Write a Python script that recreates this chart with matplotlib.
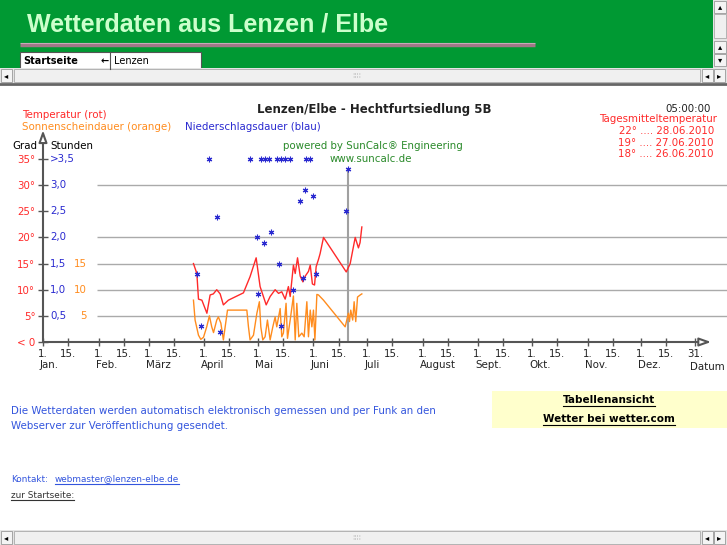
import numpy as np
import matplotlib.pyplot as plt
from matplotlib.patches import Rectangle

# Tage seit 1. Januar 2010 (0 = 1. Jan.)
temp_tag = [84.0, 85.9, 86.8, 88.7, 91.5, 93.3, 95.1, 97.0, 98.9, 100.7, 103.5, 111.9,
            115.6, 119.0, 121.2, 124.6, 126.8, 129.6, 131.5, 133.3, 135.2, 137.0, 138.0,
            139.8, 140.8, 142.1, 143.6, 145.1, 146.4, 148.2, 149.2, 150.4, 151.6, 152.5,
            153.8, 154.7, 156.6, 169.3, 171.5, 174.3, 176.1, 177.0, 178.0]
temp_grad = [15.0, 13.1, 8.2, 8.0, 5.5, 9.0, 9.2, 10.0, 9.2, 7.1, 8.0, 9.4,
             12.5, 16.1, 10.6, 7.1, 8.7, 10.0, 9.3, 9.6, 8.2, 10.6, 8.7,
             14.7, 13.1, 16.1, 12.6, 11.5, 12.6, 13.5, 14.7, 11.1, 10.9, 14.4,
             15.8, 16.9, 20.0, 13.4, 15.0, 20.0, 18.0, 19.0, 22.0]

sonne_tag = [84.0, 84.9, 86.8, 88.1, 89.6, 91.4, 92.9, 94.2, 95.2, 97.0, 97.9, 99.3,
             100.7, 101.7, 103.0, 113.8, 114.7, 115.6, 117.5, 119.4, 120.8, 121.6, 122.7,
             124.0, 125.3, 126.8, 128.3, 129.6, 130.5, 132.4, 133.3, 134.2, 135.7, 136.5,
             138.0, 139.8, 140.8, 141.7, 142.8, 144.5, 145.8, 147.3, 148.2, 149.2, 150.1,
             151.0, 151.8, 152.9, 153.8, 156.6, 168.7, 169.6, 170.5, 171.1, 171.8, 172.9,
             173.7, 174.6, 175.6, 177.1, 178.0]
sonne_std = [8.0, 4.2, 1.3, 0.5, 0.9, 2.9, 5.0, 2.9, 1.8, 4.2, 4.8, 3.6,
             0.4, 2.9, 6.1, 6.1, 2.9, 0.4, 1.3, 5.5, 7.7, 2.9, 0.4,
             1.0, 4.2, 0.4, 2.9, 4.8, 2.9, 6.4, 1.0, 1.7, 7.4, 0.7,
             4.2, 8.8, 0.4, 7.4, 1.0, 1.7, 1.0, 7.7, 1.0, 6.1, 2.9,
             6.1, 0.4, 9.1, 9.0, 8.0, 2.9, 4.2, 5.5, 3.9, 6.1, 4.2,
             7.7, 3.9, 8.6, 9.0, 9.2]

regen_tag = [86.2, 88.3, 92.9, 97.0, 98.9, 115.6, 119.4, 120.3, 121.8, 123.5, 124.0,
             126.3, 127.4, 130.7, 131.8, 133.0, 133.0, 135.2, 138.0, 139.3, 143.2,
             145.4, 146.0, 146.9, 149.2, 151.0, 152.3, 169.3, 170.0]
regen_std = [1.31, 0.31, 4.0, 2.4, 0.2, 4.0, 2.0, 0.91, 4.0, 1.9, 4.0,
             4.0, 2.11, 4.0, 1.5, 4.0, 0.31, 4.0, 4.0, 0.99, 2.7,
             1.22, 2.9, 4.0, 4.0, 2.8, 1.31, 2.51, 3.3]

monate = ["Jan.", "Feb.", "März", "April", "Mai", "Juni", "Juli", "August",
          "Sept.", "Okt.", "Nov.", "Dez."]
monat_start = [0, 31, 59, 90, 120, 151, 181, 212, 243, 273, 304, 334]
grad_ticks = [0, 5, 10, 15, 20, 25, 30, 35]
grad_labels = ["< 0", "5°", "10°", "15°", "20°", "25°", "30°", "35°"]
std_labels = ["", "0,5", "1,0", "1,5", "2,0", "2,5", "3,0", ">3,5"]
sonne_ticks = [5, 10, 15]
gitter = [5, 10, 15, 20, 30]
heute = 170
mittel = ["22° .... 28.06.2010", "19° .... 27.06.2010", "18° .... 26.06.2010"]

ROT = "#ff2a2a"
ORANGE = "#ff8c1e"
BLAU = "#2a2ad0"
GRUEN = "#2a8a2a"
FS = 7.4

plt.rcParams["font.family"] = ["DejaVu Sans"]
fig = plt.figure(figsize=(7.27, 5.45), dpi=100)

# Seite in Pixelkoordinaten
page = fig.add_axes([0, 0, 1, 1])
page.set_xlim(0, 727)
page.set_ylim(545, 0)
page.axis("off")

# Kopf
page.add_patch(Rectangle((0, 0), 713, 68, fc="#009933", ec="none"))
page.text(27, 25, "Wetterdaten aus Lenzen / Elbe", color="#ccffcc", fontsize=18,
          fontweight="bold", family="Liberation Sans", va="center")
page.plot([20, 535], [44.5, 44.5], color="#a07888", lw=2.5, solid_capstyle="butt")
page.plot([20, 535], [43.3, 43.3], color="#c8a8b8", lw=0.8, solid_capstyle="butt")
page.add_patch(Rectangle((20, 52), 181, 17, fc="white", ec="#555555", lw=0.8))
page.plot([110, 110], [52, 69], color="#555555", lw=0.8)
page.text(23, 61, "Startseite", fontsize=7, fontweight="bold", va="center")
page.text(101, 61, "←", fontsize=7, fontweight="bold", va="center")
page.text(114, 61, "Lenzen", fontsize=7, va="center")
page.text(604, 73, "Private Homepage", fontsize=7, color="#2244aa", va="center", zorder=0.5)


def scrollbar(y0):
    page.add_patch(Rectangle((0, y0), 727, 15, fc="#e4e4e4", ec="none"))
    page.add_patch(Rectangle((1, y0 + 1), 11, 13, fc="#f4f4f4", ec="#999999", lw=0.6))
    page.text(6.5, y0 + 7.5, "◂", fontsize=6, ha="center", va="center")
    page.add_patch(Rectangle((14, y0 + 1), 686, 13, fc="#f0f0f0", ec="#aaaaaa", lw=0.6))
    page.text(357, y0 + 7.5, "⁞⁞⁞⁞", fontsize=5, color="#bbbbbb", ha="center", va="center")
    page.add_patch(Rectangle((702, y0 + 1), 11, 13, fc="#f4f4f4", ec="#999999", lw=0.6))
    page.text(707.5, y0 + 7.5, "◂", fontsize=6, ha="center", va="center")
    page.add_patch(Rectangle((714, y0 + 1), 11, 13, fc="#f4f4f4", ec="#999999", lw=0.6))
    page.text(719.5, y0 + 7.5, "▸", fontsize=6, ha="center", va="center")


# rechte Bildlaufleiste im Kopf
page.add_patch(Rectangle((713, 0), 14, 68, fc="#e4e4e4", ec="none"))
page.add_patch(Rectangle((714, 1), 12, 12, fc="#f4f4f4", ec="#999999", lw=0.6))
page.text(720, 7, "▴", fontsize=6, ha="center", va="center")
page.add_patch(Rectangle((714, 14), 12, 24, fc="#f0f0f0", ec="#aaaaaa", lw=0.6))
page.add_patch(Rectangle((714, 41), 12, 12, fc="#f4f4f4", ec="#999999", lw=0.6))
page.text(720, 47, "▴", fontsize=6, ha="center", va="center")
page.add_patch(Rectangle((714, 54), 12, 12, fc="#f4f4f4", ec="#999999", lw=0.6))
page.text(720, 60, "▾", fontsize=6, ha="center", va="center")
scrollbar(68)
page.plot([0, 727], [84, 84], color="#666666", lw=2)
scrollbar(530)

# Beschriftung rund um das Diagramm
page.text(22, 115, "Temperatur (rot)", color=ROT, fontsize=FS, va="center")
page.text(22, 127, "Sonnenscheindauer (orange)", color=ORANGE, fontsize=FS, va="center")
page.text(185, 127, "Niederschlagsdauer (blau)", color=BLAU, fontsize=FS, va="center")
page.text(374, 110, "Lenzen/Elbe - Hechtfurtsiedlung 5B", fontsize=8.5, fontweight="bold",
          color="#222222", ha="center", va="center")
page.text(373, 146, "powered by SunCalc® Engineering", color=GRUEN, fontsize=FS,
          ha="center", va="center")
page.text(371, 159, "www.suncalc.de", color=GRUEN, fontsize=FS, ha="center", va="center")
page.text(711, 109, "05:00:00", fontsize=FS, color="#222222", ha="right", va="center")
page.text(717, 119, "Tagesmitteltemperatur", fontsize=FS, color=ROT, ha="right", va="center")
for i, s in enumerate(mittel):
    page.text(714, 131 + 11.5 * i, s, fontsize=FS, color=ROT, ha="right", va="center")
page.text(12, 146, "Grad", fontsize=FS, va="center")
page.text(50, 146, "Stunden", fontsize=FS, va="center")

# Fusszeile
page.text(11, 411, "Die Wetterdaten werden automatisch elektronisch gemessen und per Funk an den",
          fontsize=7.35, color="#3355dd", va="center")
page.text(11, 426, "Webserver zur Veröffentlichung gesendet.", fontsize=7.35, color="#3355dd",
          va="center")
page.add_patch(Rectangle((492, 391), 235, 37, fc="#ffffcc", ec="none"))
unterstrichen = []
unterstrichen.append(page.text(609, 400, "Tabellenansicht", fontsize=7.5, fontweight="bold",
                               ha="center", va="center"))
unterstrichen.append(page.text(609, 419, "Wetter bei wetter.com", fontsize=7.5, fontweight="bold",
                               ha="center", va="center"))
page.text(11, 479, "Kontakt:", fontsize=6.4, color="#3355dd", va="center")
unterstrichen.append(page.text(55, 479, "webmaster@lenzen-elbe.de", fontsize=6.4,
                               color="#3355dd", va="center"))
unterstrichen.append(page.text(11, 495, "zur Startseite:", fontsize=6.4, color="#333333",
                               va="center"))

# Diagramm
ax = fig.add_axes([43 / 727, (545 - 342) / 545, 652 / 727, 183 / 545])
ax.set_xlim(0, 364)
ax.set_ylim(0, 35)
ax.patch.set_alpha(0)
for sp in ax.spines.values():
    sp.set_visible(False)

ax.hlines(gitter, 30, 382, colors="#aaaaaa", lw=1, clip_on=False)
ax.vlines(heute, 0, 33, colors="#a0a0a0", lw=1.5, clip_on=False)

ax.annotate("", xy=(373, 0), xytext=(0, 0), annotation_clip=False,
            arrowprops=dict(arrowstyle="-|>,head_length=0.7,head_width=0.25",
                            fc="white", ec="#555555", lw=1.5, shrinkA=0, shrinkB=0))
ax.annotate("", xy=(0, 40.5), xytext=(0, 0), annotation_clip=False,
            arrowprops=dict(arrowstyle="-|>,head_length=0.7,head_width=0.25",
                            fc="white", ec="#555555", lw=1.5, shrinkA=0, shrinkB=0))

xt, xl = [], []
for s in monat_start:
    xt += [s, s + 14]
    xl += ["1.", "15."]
xt.append(364)
xl.append("31.")
ax.set_xticks(xt)
ax.set_xticklabels(xl, fontsize=FS, color="#222222")
ax.tick_params(axis="x", direction="inout", length=6, width=1, color="#555555", pad=2)
for name, s in zip(monate, monat_start):
    ax.annotate(name, xy=(s, 0), xytext=(-3, -23), textcoords="offset pixels",
                fontsize=FS, color="#222222", ha="left", va="center", annotation_clip=False)
ax.annotate("Datum", xy=(364, 0), xytext=(-5, -25), textcoords="offset pixels",
            fontsize=FS, color="#222222", ha="left", va="center", annotation_clip=False)

ax.set_yticks(grad_ticks)
ax.set_yticklabels(grad_labels, fontsize=FS, color=ROT)
ax.tick_params(axis="y", direction="inout", length=7, width=1, color="#555555", pad=2)
for v, s in zip(grad_ticks, std_labels):
    ax.annotate(s, xy=(0, v), xytext=(7, 0), textcoords="offset pixels", fontsize=FS,
                color=BLAU, ha="left", va="center")
for v in sonne_ticks:
    ax.annotate(str(v), xy=(0, v), xytext=(44, 0), textcoords="offset pixels", fontsize=FS,
                color=ORANGE, ha="right", va="center")

ax.plot(sonne_tag, sonne_std, color=ORANGE, lw=1, clip_on=False)
ax.plot(temp_tag, temp_grad, color=ROT, lw=1, clip_on=False)
regen_y = np.minimum(np.array(regen_std), 3.5) * 10
ax.plot(regen_tag, regen_y, ls="none", marker=(6, 2, 0), ms=4, mew=0.8, color=BLAU,
        clip_on=False)

# Unterstreichungen
fig.canvas.draw()
r = fig.canvas.get_renderer()
inv = page.transData.inverted()
for t in unterstrichen:
    bb = t.get_window_extent(r)
    (x0, y0), (x1, y1) = inv.transform([[bb.x0, bb.y0], [bb.x1, bb.y1]])
    page.plot([x0, x1], [y0 + 0.5, y0 + 0.5], color=t.get_color(), lw=0.8)

fig.savefig("out.png", dpi=100)
